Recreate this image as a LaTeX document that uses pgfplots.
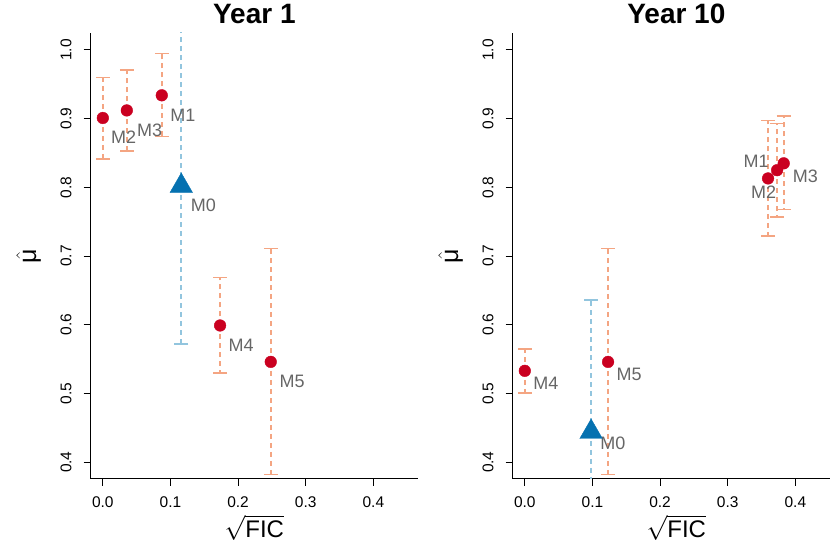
\documentclass[border=0pt]{standalone}
\usepackage{pgfplots}
\pgfplotsset{compat=1.18}
\usepackage{pgfplotstable}
\usepackage{fontspec}
\setmainfont{Liberation Sans}
\definecolor{cred}{HTML}{CA0020}
\definecolor{cblue}{HTML}{0571B0}
\definecolor{csalmon}{HTML}{F4A582}
\definecolor{clblue}{HTML}{92C5DE}
\definecolor{labgray}{HTML}{666666}

% Year 1
\pgfplotstableread{
x      y     lo    hi
0.0872 0.934 0.874 0.995
0.0    0.901 0.841 0.960
0.0355 0.912 0.853 0.971
0.1734 0.599 0.530 0.669
0.2483 0.546 0.382 0.711
}\yoneM
\pgfplotstableread{
x     y     lo    hi
0.116 0.802 0.572 1.032
}\yoneZ
% Year 10
\pgfplotstableread{
x      y     lo    hi
0.373  0.825 0.757 0.893
0.3596 0.813 0.729 0.897
0.3828 0.835 0.768 0.904
0.0    0.533 0.501 0.565
0.1231 0.546 0.382 0.711
}\ytenM
\pgfplotstableread{
x     y     lo    hi
0.098 0.444 0.252 0.636
}\ytenZ

\tikzset{lab/.style={font=\fontsize{18}{20}\selectfont, text=labgray, inner sep=0pt}}
\pgfplotsset{
  panel/.style={
    scale only axis, width=327.3pt, height=445.7pt, anchor=south west,
    xmin=-0.0179, xmax=0.466, ymin=0.376, ymax=1.0247,
    axis lines=left, axis line style={-, line width=1pt, black},
    tick align=outside, major tick length=7pt,
    tick style={line width=1pt, black},
    xtick={0,0.1,0.2,0.3,0.4}, ytick={0.4,0.5,0.6,0.7,0.8,0.9,1.0},
    /pgf/number format/fixed, /pgf/number format/fixed zerofill,
    /pgf/number format/precision=1, /pgf/number format/assume math mode=true,
    xticklabel style={font=\fontsize{15.5}{18}\selectfont, inner sep=0pt},
    yticklabel style={font=\fontsize{15.5}{18}\selectfont, rotate=90, anchor=south, inner sep=0pt},
    xticklabel shift=11pt, yticklabel shift=12pt,
    title style={font=\fontsize{28}{32}\selectfont\bfseries, at={(axis description cs:0.5,1)}, anchor=base, yshift=3.7pt, inner sep=0pt},
    xlabel style={font=\fontsize{24}{28}\selectfont, at={(axis description cs:0.5,0)}, anchor=base, yshift=-58.5pt, inner sep=0pt, text height=19pt, text depth=2pt},
    ylabel style={font=\fontsize{25}{30}\selectfont, at={(axis description cs:-0.1671,0.5)}, anchor=base, inner sep=0pt},
    xlabel={$\sqrt{\mbox{FIC}}$}, ylabel={$\hat{\mbox{μ}}$},
  },
  redpts/.style={only marks, mark=*, mark size=5.85pt, mark options={fill=cred, draw=cred, solid},
    error bars/.cd, y dir=both, y explicit,
    error bar style={csalmon, line width=1.7pt, dash pattern=on 5pt off 4pt},
    error mark options={rotate=90, csalmon, solid, line width=1.5pt, mark size=7pt}},
  bluepts/.style={only marks, mark=triangle*, mark size=13pt, mark options={fill=cblue, draw=cblue, solid},
    error bars/.cd, y dir=both, y explicit,
    error bar style={clblue, line width=1.7pt, dash pattern=on 5pt off 4pt},
    error mark options={rotate=90, clblue, solid, line width=1.5pt, mark size=7pt}},
}

\begin{document}
\begin{tikzpicture}
\begin{axis}[panel, at={(90.7pt,64.3pt)}, title={Year 1}]
\addplot[bluepts] table[x=x, y=y, y error plus expr=\thisrow{hi}-\thisrow{y}, y error minus expr=\thisrow{y}-\thisrow{lo}] {\yoneZ};
\addplot[redpts] table[x=x, y=y, y error plus expr=\thisrow{hi}-\thisrow{y}, y error minus expr=\thisrow{y}-\thisrow{lo}] {\yoneM};
\node[lab, anchor=base west, xshift=8.3pt, yshift=-26.4pt] at (axis cs:0.0872,0.934) {M1};
\node[lab, anchor=base west, xshift=8pt, yshift=-25.7pt] at (axis cs:0.0,0.901) {M2};
\node[lab, anchor=base west, xshift=10pt, yshift=-26.4pt] at (axis cs:0.0355,0.912) {M3};
\node[lab, anchor=base west, xshift=9.4pt, yshift=-25.4pt] at (axis cs:0.116,0.802) {M0};
\node[lab, anchor=base west, xshift=8.3pt, yshift=-26.4pt] at (axis cs:0.1734,0.599) {M4};
\node[lab, anchor=base west, xshift=8.6pt, yshift=-26pt] at (axis cs:0.2483,0.546) {M5};
\end{axis}
\begin{axis}[panel, at={(512.7pt,64.3pt)}, title={Year 10}]
\addplot[bluepts] table[x=x, y=y, y error plus expr=\thisrow{hi}-\thisrow{y}, y error minus expr=\thisrow{y}-\thisrow{lo}] {\ytenZ};
\addplot[redpts] table[x=x, y=y, y error plus expr=\thisrow{hi}-\thisrow{y}, y error minus expr=\thisrow{y}-\thisrow{lo}] {\ytenM};
\node[lab, anchor=base east, xshift=-8.3pt, yshift=2.4pt] at (axis cs:0.373,0.825) {M1};
\node[lab, anchor=base, xshift=-4.5pt, yshift=-20pt] at (axis cs:0.3596,0.813) {M2};
\node[lab, anchor=base west, xshift=9pt, yshift=-19pt] at (axis cs:0.3828,0.835) {M3};
\node[lab, anchor=base west, xshift=8.3pt, yshift=-18.6pt] at (axis cs:0.0,0.533) {M4};
\node[lab, anchor=base west, xshift=8.4pt, yshift=-18.3pt] at (axis cs:0.1231,0.546) {M5};
\node[lab, anchor=base west, xshift=9pt, yshift=-18pt] at (axis cs:0.098,0.444) {M0};
\end{axis}
\pgfresetboundingbox
\path[use as bounding box] (0,0) rectangle (830pt,543pt);
\end{tikzpicture}
\end{document}
